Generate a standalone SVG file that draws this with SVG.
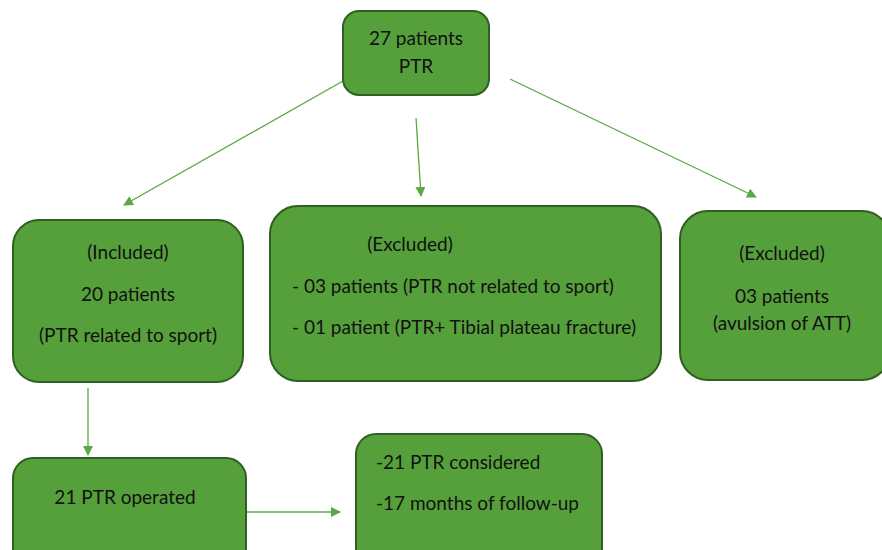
<svg xmlns="http://www.w3.org/2000/svg" width="882" height="550" viewBox="0 0 882 550">
<defs>
<marker id="ah" viewBox="0 0 10 10" refX="9" refY="5" markerWidth="10" markerHeight="10" markerUnits="userSpaceOnUse" orient="auto">
<path d="M0,0 L10,5 L0,10 z" fill="#5aa843"/>
</marker>
<style>
.box{fill:#56a03b;stroke:#2f5f22;stroke-width:2}
.t{font-family:Lato,"Open Sans","Liberation Sans",sans-serif;font-size:19px;fill:#111}
.c{text-anchor:middle}
.ln{stroke:#5aa843;stroke-width:1.3;fill:none;marker-end:url(#ah)}
</style>
</defs>
<rect width="882" height="550" fill="#fff"/>
<g id="connectors">
<line class="ln" x1="343" y1="81" x2="124" y2="205"/>
<line class="ln" x1="416" y1="118" x2="421" y2="196"/>
<line class="ln" x1="510" y1="79" x2="756" y2="197"/>
<line class="ln" x1="88" y1="388" x2="88" y2="455"/>
<line class="ln" x1="246" y1="512" x2="340" y2="512"/>
</g>
<g id="n-total">
<rect class="box" x="343" y="11" width="146" height="84" rx="16"/>
<text class="t c" x="416" y="45">27 patients</text>
<text class="t c" x="416" y="73">PTR</text>
</g>
<g id="n-included">
<rect class="box" x="13" y="220" width="230" height="162" rx="26"/>
<text class="t c" x="128" y="259">(Included)</text>
<text class="t c" x="128" y="301">20 patients</text>
<text class="t c" x="128" y="342">(PTR related to sport)</text>
</g>
<g id="n-excluded1">
<rect class="box" x="270" y="206" width="391" height="175" rx="28"/>
<text class="t c" x="410" y="251">(Excluded)</text>
<text class="t" x="292" y="293">- 03 patients (PTR not related to sport)</text>
<text class="t" x="292" y="334">- 01 patient (PTR+ Tibial plateau fracture)</text>
</g>
<g id="n-excluded2">
<rect class="box" x="680" y="211" width="210" height="169" rx="28"/>
<text class="t c" x="782" y="260">(Excluded)</text>
<text class="t c" x="782" y="303">03 patients</text>
<text class="t c" x="782" y="330">(avulsion of ATT)</text>
</g>
<g id="n-operated">
<rect class="box" x="13" y="458" width="233" height="110" rx="20"/>
<text class="t c" x="125" y="504">21 PTR operated</text>
</g>
<g id="n-followup">
<rect class="box" x="356" y="434" width="246" height="134" rx="20"/>
<text class="t" x="376" y="469">-21 PTR considered</text>
<text class="t" x="376" y="510">-17 months of follow-up</text>
</g>
</svg>
